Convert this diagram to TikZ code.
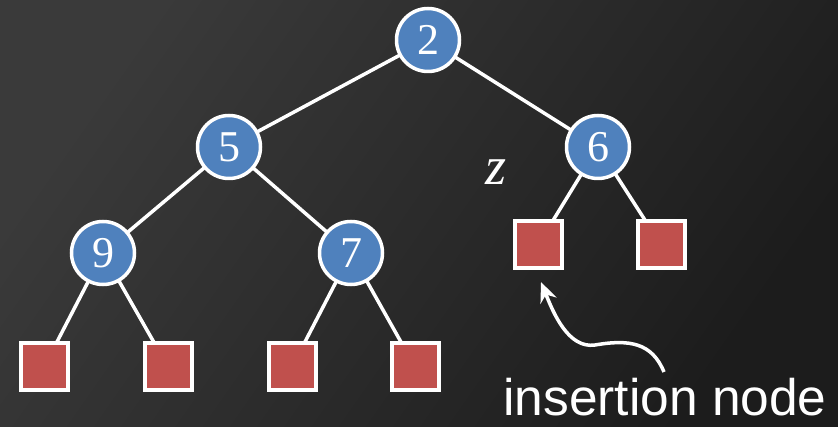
\documentclass[tikz,border=0pt]{standalone}
\usepackage{fontspec}
\setmainfont{Liberation Serif}
\newfontfamily\labelsans{Liberation Sans}
\usetikzlibrary{arrows.meta}
\definecolor{bgA}{RGB}{58,58,58}
\definecolor{bgB}{RGB}{28,28,28}
\definecolor{nodeblue}{RGB}{79,129,189}
\definecolor{leafred}{RGB}{192,80,77}
\pgfdeclarelayer{backdrop}
\pgfdeclarelayer{edges}
\pgfsetlayers{backdrop,edges,main}
\tikzset{
  inode/.style={circle, draw=white, line width=3.5pt, fill=nodeblue, minimum size=63pt, inner sep=0pt, text=white, font=\fontsize{44}{44}\selectfont},
  leaf/.style={rectangle, draw=white, line width=4pt, fill=leafred, minimum size=47pt, inner sep=0pt},
  edge/.style={draw=white, line width=3.5pt},
  pointer/.style={draw=white, line width=3.5pt, -{Stealth[length=20pt,width=17pt]}}
}
\begin{document}
\begin{tikzpicture}[x=1pt,y=-1pt]
\useasboundingbox (0,0) rectangle (838,427);
\begin{pgfonlayer}{backdrop}
\shade[top color=bgA, bottom color=bgB, shading angle=55] (0,0) rectangle (838,427);
\end{pgfonlayer}
% internal nodes
\node[inode] (n2) at (428,40) {2};
\node[inode] (n5) at (229,147) {5};
\node[inode] (n6) at (598,147) {6};
\node[inode] (n9) at (103,253) {9};
\node[inode] (n7) at (351,253) {7};
% leaves
\node[leaf] (l1) at (44,367) {};
\node[leaf] (l2) at (168,367) {};
\node[leaf] (l3) at (292,367) {};
\node[leaf] (l4) at (415,367) {};
\node[leaf] (z1) at (538,245) {};
\node[leaf] (z2) at (661,245) {};
% edges behind the nodes
\begin{pgfonlayer}{edges}
\path[edge] (n2.center) -- (n5.center);
\path[edge] (n2.center) -- (n6.center);
\path[edge] (n5.center) -- (n9.center);
\path[edge] (n5.center) -- (n7.center);
\path[edge] (n9.center) -- (l1.center);
\path[edge] (n9.center) -- (l2.center);
\path[edge] (n7.center) -- (l3.center);
\path[edge] (n7.center) -- (l4.center);
\path[edge] (n6.center) -- (z1.center);
\path[edge] (n6.center) -- (z2.center);
\end{pgfonlayer}
% label z
\node[text=white, font=\fontsize{54}{54}\selectfont\itshape] (zlab) at (496,172) {z};
% insertion node label and arrow
\node[text=white, font=\labelsans\fontsize{51.5}{51.5}\selectfont, anchor=base west, inner sep=0pt] (ins) at (503,416) {insertion node};
\coordinate (aS) at (664,372);
\coordinate (aM) at (595,345);
\coordinate (aT) at (541,282);
\draw[pointer] (aS) .. controls (652,343) and (630,339) .. (aM) .. controls (568,349) and (553,312) .. (aT);
\end{tikzpicture}
\end{document}
